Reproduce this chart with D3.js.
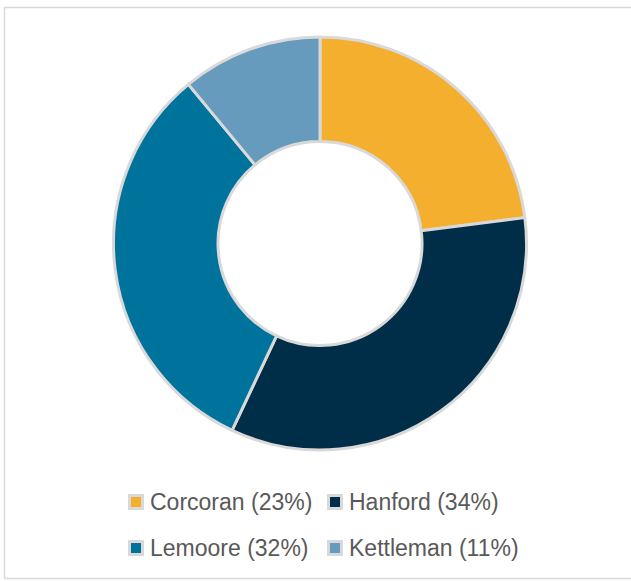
<!DOCTYPE html>
<html><head><meta charset="utf-8">
<script src="https://cdn.jsdelivr.net/npm/d3@7"></script>
<style>body{margin:0;background:#fff}svg{display:block}</style>
</head><body>
<script>
const categories = ["Corcoran", "Hanford", "Lemoore", "Kettleman"];
const values = [23, 34, 32, 11];
const colors = ["#F4AF2F", "#002E48", "#00739D", "#669BBD"];

const W = 631, H = 581;
const svg = d3.select("body").append("svg").attr("width", W).attr("height", H);
svg.append("rect").attr("x", 4.5).attr("y", 7.5).attr("width", 640).attr("height", 571)
  .attr("fill", "#fff").attr("stroke", "#d9d9d9").attr("stroke-width", 1.5);

const cx = 320, cy = 243.5, R = 206.5, r = 102;
const pie = d3.pie().sort(null).value(d => d.v);
const arc = d3.arc().innerRadius(r).outerRadius(R);
const data = categories.map((c, i) => ({c, v: values[i], col: colors[i]}));
const g = svg.append("g").attr("transform", `translate(${cx},${cy})`);
g.selectAll("path").data(pie(data)).enter().append("path")
  .attr("d", arc).attr("fill", d => d.data.col)
  .attr("stroke", "#d9d9d9").attr("stroke-width", 3).attr("stroke-linejoin", "round");

const total = d3.sum(values);
const leg = svg.append("g");
const pos = [[128, 502], [327, 502], [128, 548], [327, 548]];
data.forEach((d, i) => {
  const [x, y] = pos[i];
  const it = leg.append("g").attr("transform", `translate(${x},${y})`);
  it.append("rect").attr("x", 0).attr("y", -8).attr("width", 16).attr("height", 16).attr("fill", "#d9d9d9");
  it.append("rect").attr("x", 3).attr("y", -5).attr("width", 10).attr("height", 10).attr("fill", d.col);
  it.append("text").attr("x", 22).attr("y", 0).attr("dy", "0.35em")
    .attr("font-family", "Liberation Sans, Arial, sans-serif").attr("font-size", 23)
    .attr("fill", "#595959")
    .text(`${d.c} (${Math.round(d.v / total * 100)}%)`);
});
</script>
</body></html>
